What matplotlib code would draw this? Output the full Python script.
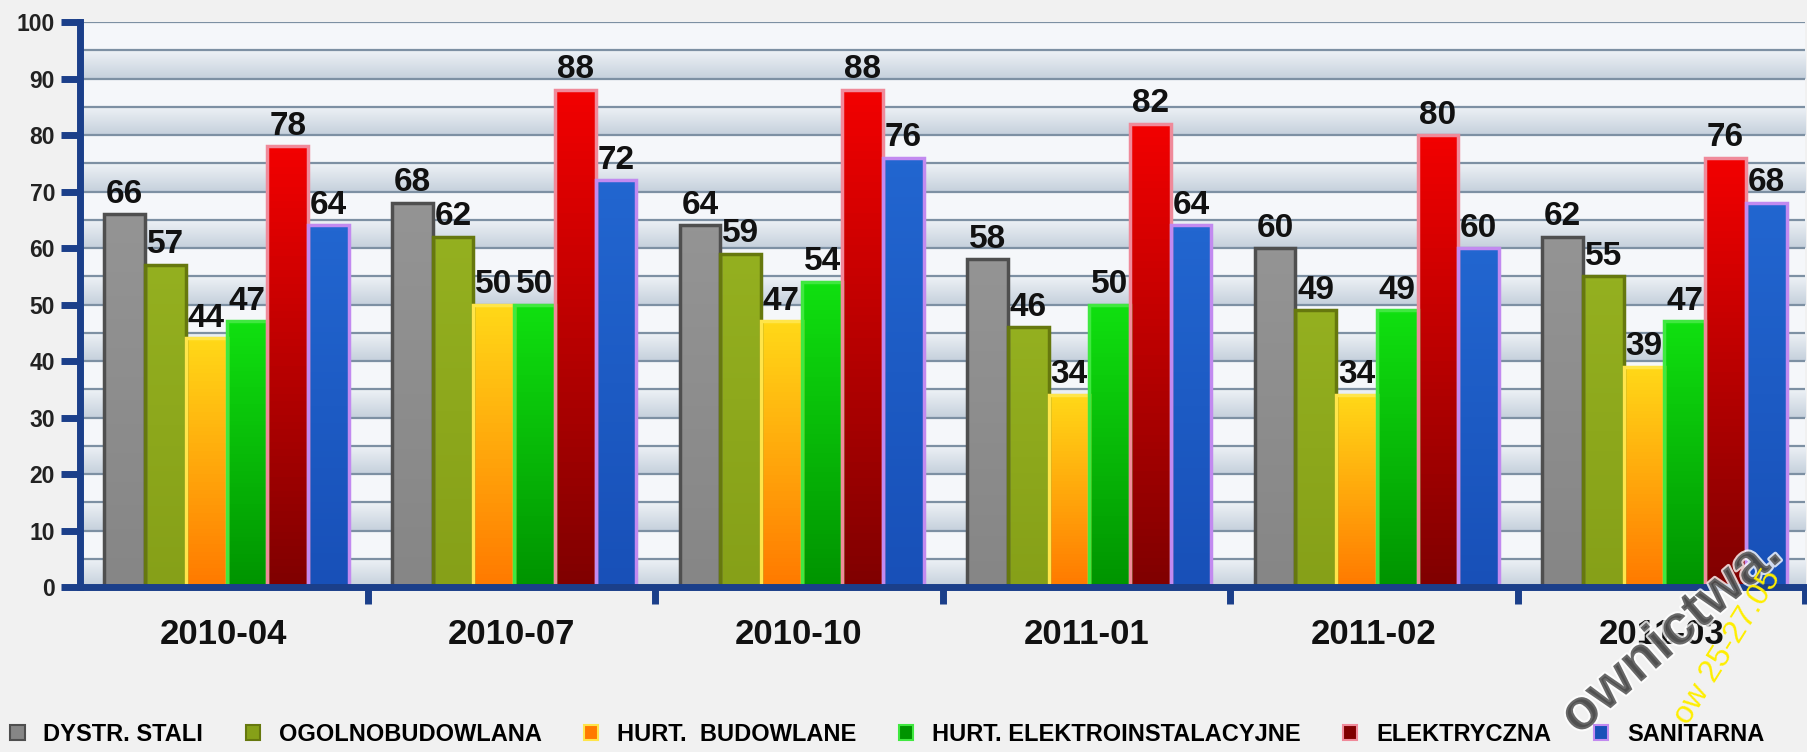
import numpy as np
import matplotlib
matplotlib.use("Agg")
from matplotlib import pyplot as plt
from matplotlib.patches import Patch
from matplotlib.colors import LinearSegmentedColormap
import matplotlib.patheffects as pe

plt.rcParams['font.family'] = ['Liberation Sans', 'DejaVu Sans']
plt.rcParams['font.weight'] = 'bold'

# data
periods = ['2010-04', '2010-07', '2010-10', '2011-01', '2011-02', '2011-03']
series_names = ['DYSTR. STALI', 'OGOLNOBUDOWLANA', 'HURT.  BUDOWLANE',
                'HURT. ELEKTROINSTALACYJNE', 'ELEKTRYCZNA', 'SANITARNA']
dystr_stali = [66, 68, 64, 58, 60, 62]
ogolnobudowlana = [57, 62, 59, 46, 49, 55]
hurt_budowlane = [44, 50, 47, 34, 34, 39]
hurt_elektro = [47, 50, 54, 50, 49, 47]
elektryczna = [78, 88, 88, 82, 80, 76]
sanitarna = [64, 72, 76, 64, 60, 68]
all_series = [dystr_stali, ogolnobudowlana, hurt_budowlane,
              hurt_elektro, elektryczna, sanitarna]

# (top colour, bottom colour, edge colour)
styles = [
    ('#949494', '#868686', '#4f4f4f'),
    ('#94b020', '#86a018', '#66780e'),
    ('#ffd818', '#ff7a00', '#ffe54a'),
    ('#10e010', '#009400', '#40e840'),
    ('#f20000', '#800000', '#f08a9a'),
    ('#2266d0', '#1850b8', '#c28af0'),
]

fig = plt.figure(figsize=(18.07, 7.52), dpi=100, facecolor='#f1f1f1')
ax = fig.add_axes([0.0443, 0.2194, 0.9547, 0.7513])
ax.set_facecolor('#f5f7fa')
ax.set_xlim(-0.5, len(periods) - 0.5)
ax.set_ylim(0, 100)

# banded background
band_cmap = LinearSegmentedColormap.from_list('band', ['#c5d0dc', '#eef2f6'])
grad = np.linspace(0, 1, 64).reshape(-1, 1)
for lo in range(0, 100, 10):
    ax.imshow(grad, cmap=band_cmap, aspect='auto', zorder=0,
              extent=(-0.5, len(periods) - 0.5, lo + 5, lo), origin='upper')
for y in range(5, 101, 5):
    ax.axhline(y, color='#7d90a3', lw=1.6, zorder=1)

x = np.arange(len(periods))
w = 0.1417
for i, (vals, (top, bot, edge)) in enumerate(zip(all_series, styles)):
    pos = x + (i - 2.5) * w + 0.01
    bars = ax.bar(pos, vals, width=w, facecolor='none', edgecolor=edge,
                  linewidth=2.5, zorder=4)
    cmap = LinearSegmentedColormap.from_list(f's{i}', [top, bot])
    for b, v in zip(bars, vals):
        bx = b.get_x()
        im = ax.imshow(np.linspace(0, 1, 64).reshape(-1, 1), cmap=cmap,
                       aspect='auto', origin='upper', zorder=3,
                       extent=(bx, bx + w, 0, v))
        im.set_clip_path(b)
        ax.text(b.get_x() + w / 2, v + 0.8, str(v), ha='center', va='bottom',
                fontsize=24, fontweight='bold', color='#111111', zorder=5)

ax.set_xlim(-0.5, len(periods) - 0.5)
ax.set_ylim(0, 100)

for s in ['top', 'right']:
    ax.spines[s].set_visible(False)
for s in ['left', 'bottom']:
    ax.spines[s].set_color('#1b3f8a')
    ax.spines[s].set_linewidth(5)
    ax.spines[s].set_zorder(6)

ax.set_yticks(range(0, 101, 10))
ax.tick_params(axis='y', length=14, width=5, color='#1b3f8a', labelsize=16.5,
               pad=4, labelcolor='#222222')
ax.set_xticks(x)
ax.set_xticklabels(periods, fontsize=25, fontweight='bold', color='#111111')
ax.tick_params(axis='x', length=0, pad=22)
ax.set_xticks(np.arange(0.5, len(periods), 1.0), minor=True)
ax.tick_params(axis='x', which='minor', length=12, width=5, color='#1b3f8a')

handles = [Patch(facecolor=s[1], edgecolor=s[2], linewidth=1.5) for s in styles]
fig.legend(handles, series_names, ncol=6, loc='center',
           bbox_to_anchor=(0.491, 0.023), frameon=False, fontsize=17,
           handlelength=0.6, handleheight=0.6, columnspacing=1.8,
           handletextpad=0.8)

# watermark
fig.text(0.925, 0.155, 'ownictwa.', rotation=41, fontsize=41,
         color='#4a4a4a', alpha=0.8, ha='center', va='center',
         fontweight='bold',
         path_effects=[pe.withStroke(linewidth=3, foreground='white')])
fig.text(0.956, 0.14, 'ow 25-27.05', rotation=58, fontsize=23,
         color='#ffee00', ha='center', va='center', fontweight='normal')

fig.savefig('out.png', dpi=100, facecolor=fig.get_facecolor())
